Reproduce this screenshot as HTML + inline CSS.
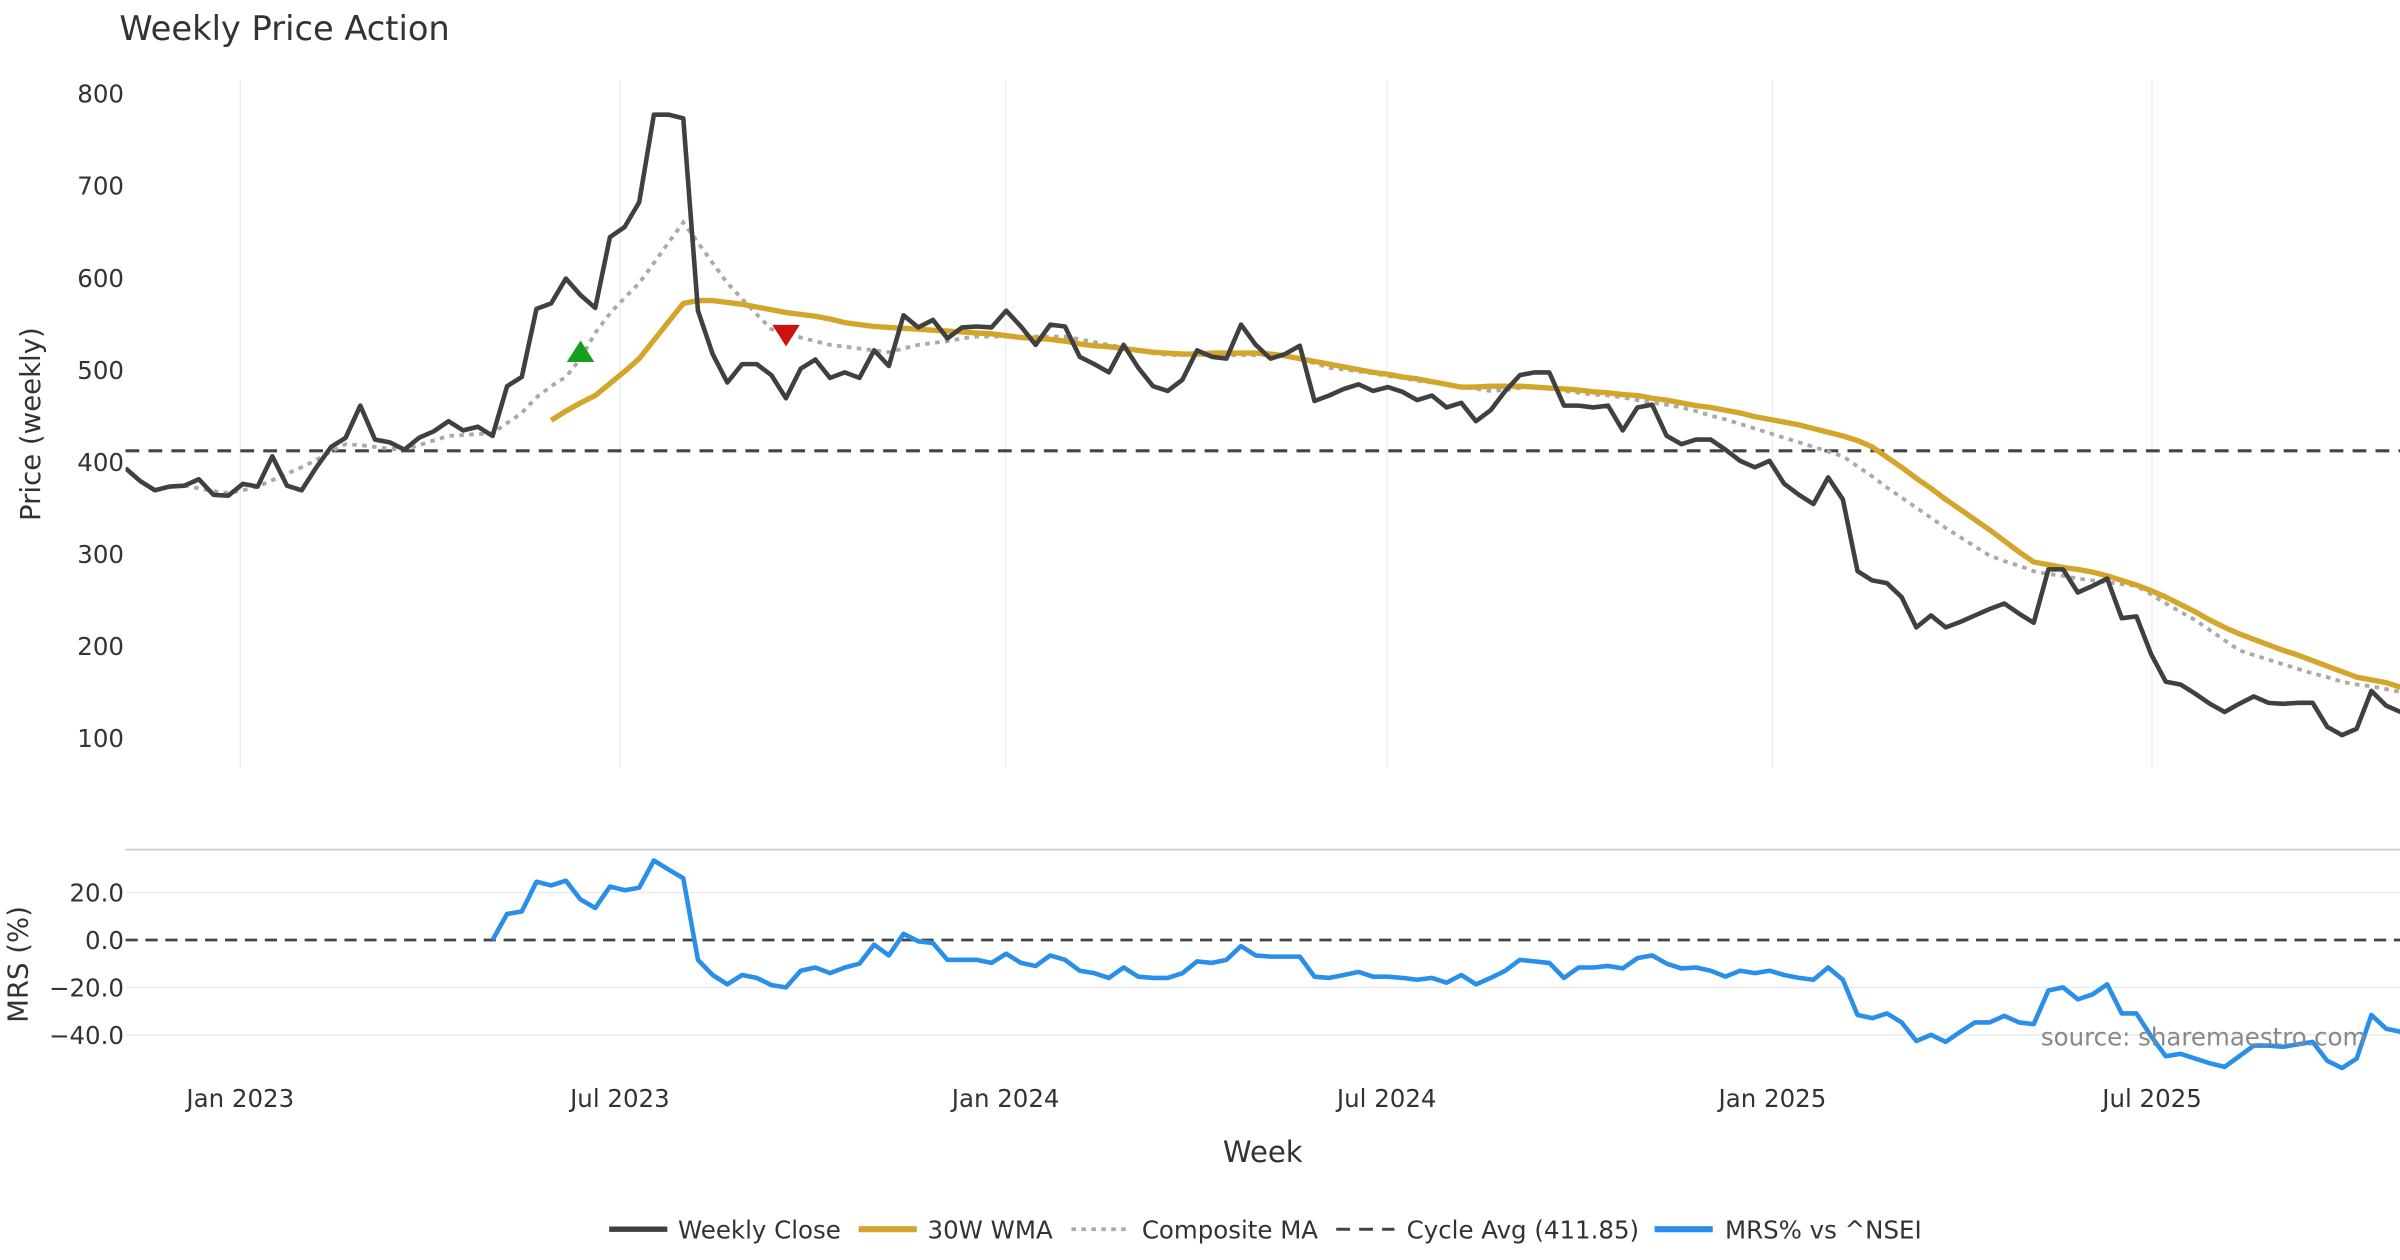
<!DOCTYPE html>
<html><head><meta charset="utf-8">
<style>
html,body{margin:0;padding:0;background:#fff;}
svg{display:block;font-family:"DejaVu Sans","Liberation Sans",sans-serif;}
</style></head>
<body>
<svg id="chart" width="2400" height="1260" viewBox="0 0 1568 823" xmlns="http://www.w3.org/2000/svg">
<defs><clipPath id="clipTop"><rect x="82" y="40" width="1486" height="470"/></clipPath>
<clipPath id="clipBot"><rect x="82" y="556" width="1486" height="160"/></clipPath></defs>
<text x="78" y="26" font-size="22" fill="#333">Weekly Price Action</text>
<g id="grid"></g>
<g id="axes"></g>
<g id="topPanel" clip-path="url(#clipTop)"></g>
<g id="botPanel" clip-path="url(#clipBot)"></g>
<text transform="translate(26,277) rotate(-90)" text-anchor="middle" font-size="18" fill="#333">Price (weekly)</text>
<text transform="translate(18,630) rotate(-90)" text-anchor="middle" font-size="18" fill="#333">MRS (%)</text>
<text x="825" y="759" text-anchor="middle" font-size="19" fill="#333">Week</text>
<text x="1546" y="683" text-anchor="end" font-size="16" fill="#888">source: sharemaestro.com</text>
<g id="legend"></g>
</svg>
<script>
const closeVals=[393,379,369,373,374,381,364,363,376,373,406,374,369,394,416,426,461,424,421,413,426,433,444,434,438,428,482,492,566,572,599,581,567,644,655,682,777,777,773,564,517,486,506,506,494,469,501,511,491,497,491,521,504,559,546,554,534,546,547,546,564,547,527,549,547,514,506,497,527,502,482,477,489,521,514,512,549,527,512,517,526,466,472,479,484,477,481,476,467,472,459,464,444,456,477,494,497,497,461,461,459,461,434,459,462,428,419,424,424,413,401,394,401,376,364,354,383,359,281,271,268,253,220,233,220,226,233,240,246,235,225,283,283,258,265,273,230,232,191,161,158,148,137,128,137,145,138,137,138,138,112,103,110,151,135,128];
const wmaStart=29;
const wmaVals=[445,455,464,472,485,498,512,532,552,572,575,575,573,571,568,565,562,560,558,555,551,549,547,546,545,544,543,542,541,540,539,537,535,534,533,531,528,526,525,523,521,519,518,517,517,518,518,518,518,517,515,512,509,506,503,500,497,495,492,490,487,484,481,481,482,482,482,481,480,479,478,476,475,473,472,469,467,464,461,459,456,453,449,446,443,440,436,432,428,423,416,405,394,382,371,359,348,337,326,314,302,291,288,285,283,280,276,271,266,260,253,245,237,228,220,213,207,201,195,190,184,178,172,166,163,160,155];
const compStart=4;
const compVals=[374,371,368,366,369,373,380,387,394,402,411,419,418,416,414,413,418,423,428,429,430,431,442,453,470,482,492,512,540,561,578,594,616,638,660,638,616,594,577,560,544,540,535,531,527,525,523,521,519,523,527,529,531,534,536,536,536,536,536,536,536,533,530,527,524,521,518,516,516,516,516,516,516,516,516,516,511,507,502,500,498,496,493,491,488,486,484,481,479,477,478,480,481,479,477,475,473,472,470,467,464,462,459,455,450,446,441,436,431,426,421,416,411,406,395,384,372,361,350,339,328,318,308,298,292,287,281,278,276,273,271,269,267,265,256,246,237,228,217,206,195,190,185,180,175,170,166,161,158,156,153,150];
const mrsStart=25;
const mrsVals=[0,11,12,24.5,23,25,17,13.5,22.5,21,22,33.5,29.7,26,-8.4,-14.8,-18.7,-14.8,-16,-19,-20,-13,-11.6,-14,-11.6,-10,-2,-6.5,2.6,-0.6,-1.3,-8.4,-8.4,-8.4,-9.7,-5.8,-9.7,-11,-6.5,-8.4,-13,-14,-16,-11.6,-15.5,-16,-16,-14,-9,-9.7,-8.4,-2.6,-6.5,-7,-7,-7,-15.5,-16,-14.8,-13.5,-15.5,-15.5,-16,-16.8,-16,-18,-14.8,-18.7,-16,-13,-8.4,-9,-9.7,-16,-11.6,-11.6,-11,-12,-7.7,-6.5,-10,-12,-11.6,-13,-15.5,-13,-14,-13,-14.8,-16,-16.8,-11.6,-16.8,-31.6,-33,-31,-34.8,-42.6,-40,-43,-38.7,-34.8,-34.8,-32,-34.8,-35.5,-21.3,-20,-25,-23,-18.7,-31,-31,-40.6,-49,-48,-50,-52,-53.5,-49,-44.5,-44.5,-45,-44,-43,-51,-54,-50,-31.6,-37.4,-38.7];
const cycleAvg=411.85;
const buyIdx=[31], buyVals=[520];
const sellIdx=[45], sellVals=[537];
const priceTicks=[100,200,300,400,500,600,700,800];
const mrsTicks=[20,0,-20,-40];
const mrsTickLabels=["20.0","0.0","\u221220.0","\u221240.0"];
const dateTicks=["Jan 2023","Jul 2023","Jan 2024","Jul 2024","Jan 2025","Jul 2025"];
const dateTickWeeks=[7.82,33.68,59.96,85.92,112.2,138.06];

const NS="http://www.w3.org/2000/svg";
function xw(i){return 82+i*9.59;}
function yp(v){return 61+(800-v)*0.6014;}
function ym(v){return 614-v*1.55;}
function mk(tag,attrs,parent){const e=document.createElementNS(NS,tag);for(const k in attrs)e.setAttribute(k,attrs[k]);parent.appendChild(e);return e;}
const gridG=document.getElementById('grid'),axesG=document.getElementById('axes'),topG=document.getElementById('topPanel'),botG=document.getElementById('botPanel'),legG=document.getElementById('legend');

dateTickWeeks.forEach((w,k)=>{
  const g=mk('line',{x1:xw(w),x2:xw(w),y1:52,y2:502,stroke:'#eceef4','stroke-width':1},gridG);
  
  
  const t=mk('text',{x:xw(w),y:723,'text-anchor':'middle','font-size':16,fill:'#333'},axesG);
  t.textContent=dateTicks[k];
  
  
});
priceTicks.forEach(v=>{
  const t=mk('text',{x:81,y:yp(v)+6,'text-anchor':'end','font-size':16,fill:'#333'},axesG);
  t.textContent=v;
  
  
});
const sep=mk('line',{x1:82,x2:1568,y1:555,y2:555,stroke:'#cccccc','stroke-width':1.2},gridG);


mrsTicks.forEach((v,k)=>{
  if(v!==0){const g=mk('line',{x1:82,x2:1568,y1:ym(v),y2:ym(v),stroke:'#ececec','stroke-width':1},gridG);
  
  }
  const t=mk('text',{x:81,y:ym(v)+6,'text-anchor':'end','font-size':16,fill:'#333'},axesG);
  t.textContent=mrsTickLabels[k];
  
  
});
function path(vals,start,yf){return vals.map((v,i)=>(i?'L':'M')+xw(i+start).toFixed(1)+','+yf(v).toFixed(1)).join('');}

const cyc=mk('line',{x1:82,x2:1568,y1:yp(cycleAvg),y2:yp(cycleAvg),stroke:'#444','stroke-width':2,'stroke-dasharray':'9,6'},topG);


const comp=mk('path',{d:path(compVals,compStart,yp),fill:'none',stroke:'#aaaaaa','stroke-width':2.5,'stroke-dasharray':'3,3.5'},topG);


const wma=mk('path',{d:path(wmaVals,wmaStart,yp),fill:'none',stroke:'#d4a52b','stroke-width':3.5,'stroke-linejoin':'round'},topG);


const cl=mk('path',{d:path(closeVals,0,yp),fill:'none',stroke:'#404040','stroke-width':3,'stroke-linejoin':'round'},topG);


buyIdx.forEach((i,k)=>{const x=xw(i),y=yp(buyVals[k]);
  const p=mk('polygon',{points:`${x-9},${y+7} ${x+9},${y+7} ${x},${y-7}`,fill:'#14a01e'},topG);
  
  });
sellIdx.forEach((i,k)=>{const x=xw(i),y=yp(sellVals[k]);
  const p=mk('polygon',{points:`${x-9},${y-7} ${x+9},${y-7} ${x},${y+7}`,fill:'#cc1111'},topG);
  
  });

const z=mk('line',{x1:82,x2:1568,y1:ym(0),y2:ym(0),stroke:'#444','stroke-width':1.8,'stroke-dasharray':'8,5'},botG);


const mrs=mk('path',{d:path(mrsVals,mrsStart,ym),fill:'none',stroke:'#2a8fe8','stroke-width':3,'stroke-linejoin':'round'},botG);



const legItems=[["Weekly Close",398,443,'#404040',3.5,''],["30W WMA",561,606,'#d4a52b',4,''],["Composite MA",700,746,'#aaaaaa',2.5,'3,3.5'],["Cycle Avg (411.85)",873,919,'#444',2,'9,6'],["MRS% vs ^NSEI",1081,1127,'#2a8fe8',4,'']];
legItems.forEach(it=>{
  const l=mk('line',{x1:it[1],x2:it[1]+38,y1:803,y2:803,stroke:it[3],'stroke-width':it[4]},legG);
  if(it[5])l.setAttribute('stroke-dasharray',it[5]);
  
  
  const t=mk('text',{x:it[2],y:809,'font-size':16,fill:'#333'},legG);
  t.textContent=it[0];
  
  
});
</script>
</body></html>
